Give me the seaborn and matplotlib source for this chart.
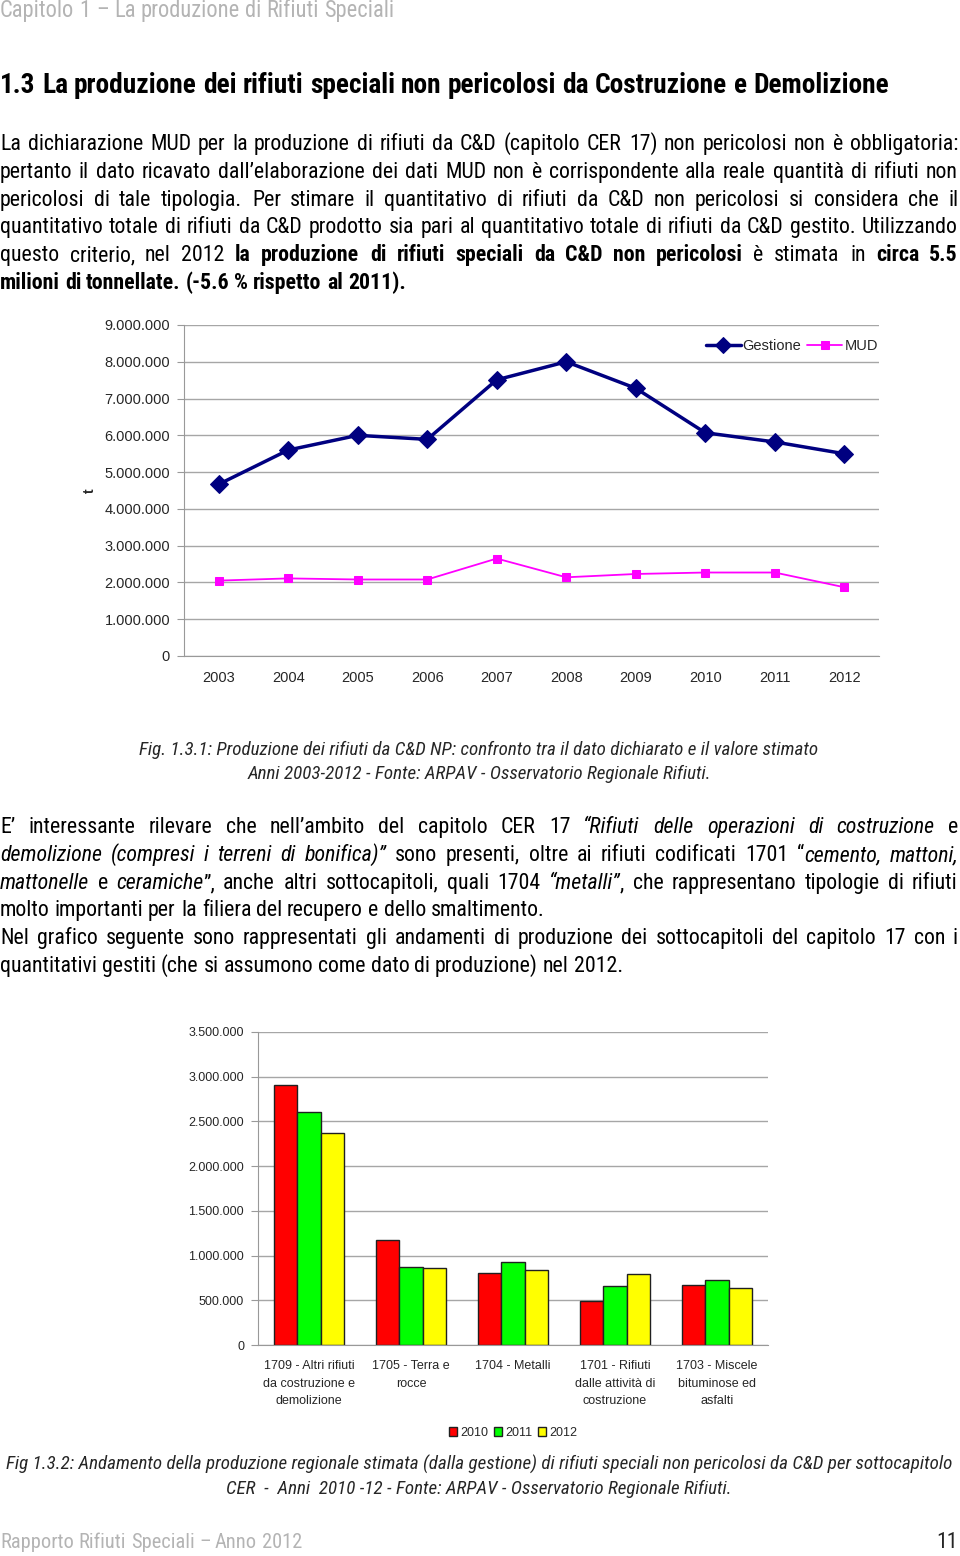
import matplotlib
matplotlib.use("Agg")
import matplotlib.pyplot as plt
import matplotlib.font_manager as fm
from matplotlib.ticker import FuncFormatter, FixedLocator
import seaborn as sns
import pandas as pd

# Data
years = [2003, 2004, 2005, 2006, 2007, 2008, 2009, 2010, 2011, 2012]
gestione = [4670000, 5600000, 6000000, 5890000, 7510000, 8000000, 7280000, 6070000, 5820000, 5500000]
mud = [2050000, 2110000, 2080000, 2080000, 2650000, 2140000, 2230000, 2270000, 2270000, 1870000]

categorie = ["1709 - Altri rifiuti\nda costruzione e\ndemolizione",
             "1705 - Terra e\nrocce",
             "1704 - Metalli",
             "1701 - Rifiuti\ndalle attività di\ncostruzione",
             "1703 - Miscele\nbituminose ed\nasfalti"]
anni_bar = ["2010", "2011", "2012"]
val_2010 = [2910000, 1170000, 804000, 491000, 670000]
val_2011 = [2600000, 871000, 927000, 659000, 726000]
val_2012 = [2370000, 860000, 841000, 793000, 637000]

W, H = 960, 1556

sns.set_style("white")

# pick a narrow font with bold and italic faces
fonts = fm.fontManager.ttflist
candidates = ["Liberation Sans Narrow", "Arial Narrow", "Roboto Condensed", "Archivo Narrow",
              "Noto Sans Condensed", "IBM Plex Sans Condensed", "Encode Sans Condensed",
              "Open Sans Condensed", "PT Sans Narrow", "Pragati Narrow"]
BODY = "Liberation Sans"
for c in candidates:
    faces = [f for f in fonts if f.name == c]
    if any(f.style == "italic" for f in faces) and any(int(f.weight) >= 700 for f in faces if str(f.weight).isdigit()):
        BODY = c
        break
CHART = "Liberation Sans"
plt.rcParams["font.family"] = [CHART, "DejaVu Sans"]
FAM = [BODY, "DejaVu Sans"]

fig = plt.figure(figsize=(W / 100, H / 100), dpi=100)
R = fig.canvas.get_renderer()


def fx(x):
    return x / W


def fy(y):
    return 1 - y / H


def measure(s, size, **kw):
    t = fig.text(0, 0, s, fontsize=size, family=FAM, **kw)
    w = t.get_window_extent(R).width
    t.remove()
    return w


def fit_size(s, target, size=13.5, **kw):
    return size * target / measure(s, size, **kw)


def text_line(segs, base_y, justify=False, size=13.5, x0=0, x1=958, color="black"):
    # split segments into words, keep pieces with their style
    base_y = round(base_y)
    words, cur = [], []
    for txt, st in segs:
        parts = txt.split(" ")
        for k, p in enumerate(parts):
            if k > 0:
                words.append(cur)
                cur = []
            if p:
                cur.append((p, st))
    words.append(cur)
    words = [w for w in words if w]
    objs = []
    for w in words:
        row = []
        for p, st in w:
            t = fig.text(0, fy(base_y), p, fontsize=size, family=FAM,
                         fontweight="bold" if st == "b" else "normal",
                         fontstyle="italic" if st == "i" else "normal",
                         va="baseline", ha="left", color=color)
            row.append(t)
        objs.append(row)
    widths = [[t.get_window_extent(R).width for t in row] for row in objs]
    tot = sum(sum(ws) for ws in widths)
    if justify and len(words) > 1:
        gap = (x1 - x0 - tot) / (len(words) - 1)
    else:
        gap = measure("n n", size) - measure("nn", size)
    x = x0
    for row, ws in zip(objs, widths):
        for t, w in zip(row, ws):
            t.set_x(fx(round(x)))
            x += w
        x += gap


def dots(v, pos=None):
    return f"{int(round(v)):,}".replace(",", ".")


BS = fit_size("molto importanti per la filiera del recupero e dello smaltimento.", 545)

# Header / title / paragraph 1
header = "Capitolo 1 – La produzione di Rifiuti Speciali"
text_line([(header, "n")], 17, size=fit_size(header, 393), color="#b4b4b4")
title = "1.3 La produzione dei rifiuti speciali non pericolosi da Costruzione e Demolizione"
text_line([(title, "b")], 93, size=fit_size(title, 892, fontweight="bold"))

par1 = [
    [("La dichiarazione MUD per la produzione di rifiuti da C&D (capitolo CER 17) non pericolosi non è obbligatoria:", "n")],
    [("pertanto il dato ricavato dall’elaborazione dei dati MUD non è corrispondente alla reale quantità di rifiuti non", "n")],
    [("pericolosi di tale tipologia. Per stimare il quantitativo di rifiuti da C&D non pericolosi si considera che il", "n")],
    [("quantitativo totale di rifiuti da C&D prodotto sia pari al quantitativo totale di rifiuti da C&D gestito. Utilizzando", "n")],
    [("questo criterio, nel 2012 ", "n"), ("la produzione di rifiuti speciali da C&D non pericolosi", "b"),
     (" è stimata in ", "n"), ("circa 5.5", "b")],
    [("milioni di tonnellate. (-5.6 % rispetto al 2011).", "b")],
]
for i, segs in enumerate(par1):
    text_line(segs, 150 + i * 27.8, justify=(i < len(par1) - 1), size=BS)

# Chart 1
ax1 = fig.add_axes([fx(184), fy(656), 695 / W, 331 / H])
sns.lineplot(x=years, y=gestione, ax=ax1, color="#000080", marker="D", markersize=9,
             markeredgecolor="#000080", linewidth=2.5, label="Gestione")
sns.lineplot(x=years, y=mud, ax=ax1, color="#ff00ff", marker="s", markersize=6,
             markeredgecolor="#ff00ff", linewidth=1.3, label="MUD")
ax1.set_xlim(2002.5, 2012.5)
ax1.set_ylim(0, 9000000)
ax1.yaxis.set_major_locator(FixedLocator(range(0, 9000001, 1000000)))
ax1.yaxis.set_major_formatter(FuncFormatter(dots))
ax1.set_xticks(years)
ax1.set_xticklabels([str(y) for y in years])
ax1.xaxis.set_minor_locator(FixedLocator([y + 0.5 for y in range(2002, 2013)]))
ax1.tick_params(axis="x", which="major", length=0, pad=11, labelsize=10.5)
ax1.tick_params(axis="x", which="minor", length=6, color="#999999", direction="out")
ax1.tick_params(axis="y", length=5, color="#999999", pad=5, labelsize=10.5, left=True)
ax1.yaxis.grid(True, color="#a6a6a6", linewidth=1)
ax1.set_axisbelow(True)
for s in ["top", "right"]:
    ax1.spines[s].set_visible(False)
for s in ["left", "bottom"]:
    ax1.spines[s].set_color("#999999")
ax1.set_xlabel("")
ax1.set_ylabel("t", fontsize=10, fontweight="bold")
ax1.yaxis.set_label_coords((97 - 184) / 695, 0.5)
ax1.legend(loc="center right", bbox_to_anchor=(fx(878), fy(346)), bbox_transform=fig.transFigure,
           ncol=2, frameon=False, fontsize=10.5, handlelength=2.4, handletextpad=0.15,
           columnspacing=0.4, borderaxespad=0, borderpad=0, markerscale=0.85)

# Caption 1
cap1a = "Fig. 1.3.1: Produzione dei rifiuti da C&D NP: confronto tra il dato dichiarato e il valore stimato"
cap1b = "Anni 2003-2012 - Fonte: ARPAV - Osservatorio Regionale Rifiuti."
cs1 = fit_size(cap1a, 678, style="italic")
fig.text(fx(479), fy(755), cap1a, family=FAM, fontsize=cs1, style="italic", ha="center", va="baseline")
fig.text(fx(479), fy(779), cap1b, family=FAM, fontsize=cs1, style="italic", ha="center", va="baseline")

# Paragraph 2
par2 = [
    ([("E’ interessante rilevare che nell’ambito del capitolo CER 17 ", "n"),
      ("“Rifiuti delle operazioni di costruzione", "i"), (" e", "n")], True),
    ([("demolizione (compresi i terreni di bonifica)”", "i"), (" sono presenti, oltre ai rifiuti codificati 1701 “", "n"),
      ("cemento, mattoni,", "i")], True),
    ([("mattonelle", "i"), (" e ", "n"), ("ceramiche", "i"), ("”, anche altri sottocapitoli, quali 1704 ", "n"),
      ("“metalli”", "i"), (", che rappresentano tipologie di rifiuti", "n")], True),
    ([("molto importanti per la filiera del recupero e dello smaltimento.", "n")], False),
    ([("Nel grafico seguente sono rappresentati gli andamenti di produzione dei sottocapitoli del capitolo 17 con i", "n")], True),
    ([("quantitativi gestiti (che si assumono come dato di produzione) nel 2012.", "n")], False),
]
for i, (segs, just) in enumerate(par2):
    text_line(segs, 833 + i * 27.8, justify=just, size=BS)

# Chart 2
df = pd.DataFrame({
    "categoria": categorie * 3,
    "anno": [a for a in anni_bar for _ in categorie],
    "valore": val_2010 + val_2011 + val_2012,
})
ax2 = fig.add_axes([fx(258), fy(1345), 510 / W, 313 / H])
sns.barplot(data=df, x="categoria", y="valore", hue="anno", ax=ax2,
            palette=["#ff0000", "#00ff00", "#ffff00"], width=0.68, gap=0,
            edgecolor="#202020", linewidth=1, saturation=1)
ax2.set_xlim(-0.5, 4.5)
ax2.set_ylim(0, 3500000)
ax2.yaxis.set_major_locator(FixedLocator(range(0, 3500001, 500000)))
ax2.yaxis.set_major_formatter(FuncFormatter(dots))
ax2.xaxis.set_minor_locator(FixedLocator([i - 0.5 for i in range(6)]))
ax2.tick_params(axis="x", which="major", length=0, pad=11, labelsize=9)
for lab in ax2.get_xticklabels():
    lab.set_linespacing(1.6)
ax2.tick_params(axis="x", which="minor", length=6, color="#999999", direction="out")
ax2.tick_params(axis="y", length=5, color="#999999", pad=5, labelsize=9, left=True)
ax2.yaxis.grid(True, color="#a6a6a6", linewidth=1)
ax2.set_axisbelow(True)
for s in ["top", "right"]:
    ax2.spines[s].set_visible(False)
for s in ["left", "bottom"]:
    ax2.spines[s].set_color("#999999")
ax2.set_xlabel("")
ax2.set_ylabel("")
ax2.legend(loc="center", bbox_to_anchor=(fx(513), fy(1433)), bbox_transform=fig.transFigure,
           ncol=3, frameon=False, fontsize=9, handlelength=0.7, handleheight=0.7,
           handletextpad=0.25, columnspacing=0.4, borderaxespad=0, borderpad=0)

# Caption 2
cap2a = "Fig 1.3.2: Andamento della produzione regionale stimata (dalla gestione) di rifiuti speciali non pericolosi da C&D per sottocapitolo"
cap2b = "CER  -  Anni  2010 -12 - Fonte: ARPAV - Osservatorio Regionale Rifiuti."
cs2 = fit_size(cap2a, 943, style="italic")
fig.text(fx(479), fy(1470), cap2a, family=FAM, fontsize=cs2, style="italic", ha="center", va="baseline")
fig.text(fx(479), fy(1494), cap2b, family=FAM, fontsize=cs2, style="italic", ha="center", va="baseline")

# Footer
footer = "Rapporto Rifiuti Speciali – Anno 2012"
text_line([(footer, "n")], 1548, size=fit_size(footer, 300), color="#b4b4b4")
fig.text(fx(958), fy(1548), "11", family=FAM, fontsize=BS, ha="right", va="baseline")

fig.savefig("out.png", dpi=100)
